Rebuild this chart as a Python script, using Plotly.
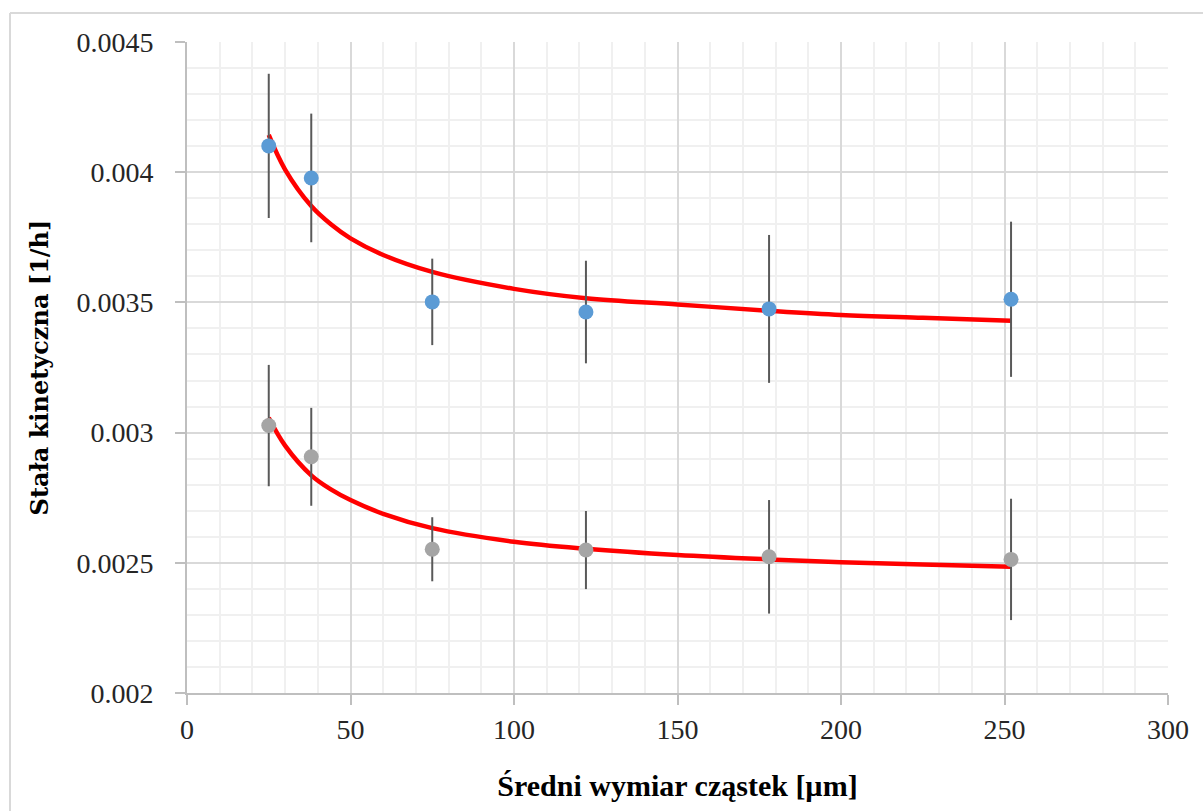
import plotly.graph_objects as go

# Measured data (particle size in µm)
sizes = [25, 38, 75, 122, 178, 252]
k_blue = [0.004101, 0.003978, 0.003502, 0.003463, 0.003475, 0.003512]
k_blue_err = [0.000277, 0.000247, 0.000166, 0.000197, 0.000284, 0.000298]
k_gray = [0.003027, 0.002907, 0.002552, 0.002549, 0.002523, 0.002513]
k_gray_err = [0.000233, 0.000188, 0.000123, 0.000150, 0.000218, 0.000233]

# Trend lines
fit_x = [25, 30, 38, 44, 50, 60, 75, 100, 122, 150, 178, 200, 225, 252]
fit_blue = [0.004143, 0.004010, 0.003870, 0.003800, 0.003746, 0.003682, 0.003617,
            0.003552, 0.003516, 0.003492, 0.003468, 0.003452, 0.003441, 0.003430]
fit_gray = [0.003057, 0.002950, 0.002836, 0.002782, 0.002741, 0.002688, 0.002633,
            0.002581, 0.002554, 0.002530, 0.002513, 0.002502, 0.002493, 0.002485]

x_ticks = [0, 50, 100, 150, 200, 250, 300]
y_ticks = [0.002, 0.0025, 0.003, 0.0035, 0.004, 0.0045]
y_tick_text = ["0.002", "0.0025", "0.003", "0.0035", "0.004", "0.0045"]

fig = go.Figure()

for fy in (fit_blue, fit_gray):
    fig.add_trace(go.Scatter(
        x=fit_x, y=fy, mode="lines",
        line=dict(color="#FF0000", width=4.5, shape="spline", smoothing=1.0),
        hoverinfo="skip", showlegend=False))

fig.add_trace(go.Scatter(
    x=sizes, y=k_blue, mode="markers",
    marker=dict(color="#5B9BD5", size=15),
    error_y=dict(type="data", array=k_blue_err, visible=True, color="#595959", thickness=2, width=0),
    showlegend=False))
fig.add_trace(go.Scatter(
    x=sizes, y=k_gray, mode="markers",
    marker=dict(color="#A5A5A5", size=15),
    error_y=dict(type="data", array=k_gray_err, visible=True, color="#595959", thickness=2, width=0),
    showlegend=False))

tick_font = dict(family="Liberation Serif", size=28, color="#262626")

fig.update_xaxes(
    range=[0, 300], tickvals=x_ticks, ticktext=[str(v) for v in x_ticks],
    showgrid=True, gridcolor="#D9D9D9", gridwidth=1.5,
    minor=dict(dtick=10, showgrid=True, gridcolor="#F0F0F0", gridwidth=1.5),
    showline=True, linecolor="#BFBFBF", linewidth=2,
    ticks="outside", ticklen=10, tickwidth=1.5, tickcolor="#BFBFBF",
    tickfont=tick_font, ticklabelstandoff=0, zeroline=False, automargin=False,
    title=dict(text="Średni wymiar cząstek [µm]",
               font=dict(family="Liberation Serif", size=30, color="#000000", weight="bold"),
               standoff=31),
)
fig.update_yaxes(
    range=[0.002, 0.0045], tickvals=y_ticks, ticktext=y_tick_text,
    showgrid=True, gridcolor="#D9D9D9", gridwidth=1.5,
    minor=dict(dtick=0.0001, showgrid=True, gridcolor="#F0F0F0", gridwidth=1.5),
    showline=True, linecolor="#BFBFBF", linewidth=2,
    ticks="outside", ticklen=10, tickwidth=1.5, tickcolor="#BFBFBF",
    tickfont=tick_font, ticklabelstandoff=16, zeroline=False, automargin=False,
    title=dict(text="Stała kinetyczna [1/h]",
               font=dict(family="DejaVu Serif", size=24, color="#000000", weight="bold"),
               standoff=21),
)

# chart-area border (left and top edges visible)
W, H = 1203, 811
L, R, T, B = 187, 35, 42, 118
pw, ph = W - L - R, H - T - B
bx = (10 - L) / pw
by = (H - B - 13) / ph
fig.add_shape(type="line", xref="paper", yref="paper", x0=bx, x1=bx, y0=by, y1=-1,
              line=dict(color="#D9D9D9", width=2))
fig.add_shape(type="line", xref="paper", yref="paper", x0=bx, x1=2, y0=by, y1=by,
              line=dict(color="#D9D9D9", width=2))

fig.update_layout(
    width=W, height=H,
    margin=dict(l=L, r=R, t=T, b=B, autoexpand=False),
    paper_bgcolor="white", plot_bgcolor="white",
    showlegend=False,
)

fig.write_html("out.html")
